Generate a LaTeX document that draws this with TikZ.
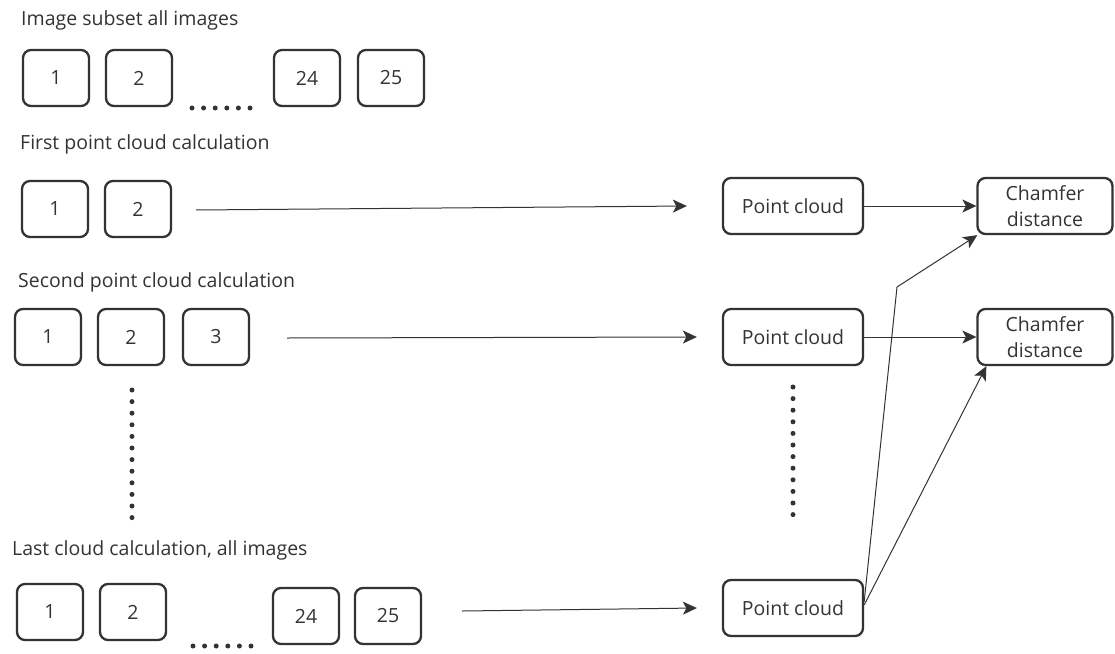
\documentclass[tikz,border=0pt]{standalone}
\usepackage{fontspec}
\setmainfont{Open Sans}
\usetikzlibrary{arrows.meta,positioning}
\definecolor{ink}{HTML}{333333}

\begin{document}
\begin{tikzpicture}[x=1pt, y=-1pt,
  img/.style={draw=ink, line width=2.3pt, rounded corners=8pt,
    minimum width=66pt, minimum height=56pt, text=ink},
  cloud/.style={img, minimum width=140pt},
  dist/.style={img, minimum width=135pt, align=center, inner sep=1pt},
  title/.style={anchor=base west, text=ink, inner sep=0pt},
  flow/.style={draw=ink, line width=1pt,
    -{Stealth[length=14pt, width=13pt, inset=3.5pt]}},
  dots/.style={draw=ink, line width=5pt, line cap=round,
    dash pattern=on 0pt off 11.6pt}]

  \fontsize{19.5}{26}\selectfont

  \useasboundingbox (0,0) rectangle (1115,653);

  % all images
  \node[title] (t1) at (21,25) {Image subset all images};
  \node[img] (a1) at (56,78) {1};
  \node[img] (a2) at (139,78) {2};
  \node[img] (a24) at (307,78) {24};
  \node[img] (a25) at (391,78) {25};
  \coordinate (ad1) at (192,108);
  \coordinate (ad2) at (252,108);
  \draw[dots] (ad1) -- (ad2);

  % first cloud
  \node[title] (t2) at (20,149) {First point cloud calculation};
  \node[img] (b1) at (55,209) {1};
  \node[img] (b2) at (138,209) {2};
  \node[cloud] (pc1) at (793,206) {Point cloud};
  \node[dist] (cd1) at (1045,206) {Chamfer\\distance};
  \coordinate (bs) at (196,210);
  \draw[flow] (bs) -- ([xshift=-35pt]pc1.west);
  \draw[flow] (pc1) -- (cd1);

  % second cloud
  \node[title] (t3) at (18,287) {Second point cloud calculation};
  \node[img] (c1) at (48,337) {1};
  \node[img] (c2) at (131,337) {2};
  \node[img] (c3) at (216,337) {3};
  \node[cloud] (pc2) at (793,337) {Point cloud};
  \node[dist] (cd2) at (1045,337) {Chamfer\\distance};
  \coordinate (cs) at (287,338);
  \draw[flow] (cs) -- ([xshift=-25pt]pc2.west);
  \draw[flow] (pc2) -- (cd2);

  \coordinate (vl1) at (132,390);
  \coordinate (vl2) at (132,518);
  \draw[dots] (vl1) -- (vl2);
  \coordinate (vr1) at (793,387);
  \coordinate (vr2) at (793,526);
  \draw[dots] (vr1) -- (vr2);

  % last cloud
  \node[title] (t4) at (12,555) {Last cloud calculation, all images};
  \node[img] (d1) at (50,612) {1};
  \node[img] (d2) at (133,612) {2};
  \node[img] (d24) at (306,616) {24};
  \node[img] (d25) at (388,616) {25};
  \coordinate (dd1) at (193,646);
  \coordinate (dd2) at (253,646);
  \draw[dots] (dd1) -- (dd2);
  \node[cloud] (pc3) at (793,608) {Point cloud};
  \coordinate (ds) at (462,611);
  \draw[flow] (ds) -- ([xshift=-25pt]pc3.west);

  % into the distances
  \coordinate (bend) at (897,287);
  \draw[flow] ([yshift=6pt]pc3.east) -- (bend) -- ([xshift=1pt]cd1.south west);
  \draw[flow] ([yshift=3pt]pc3.east) -- ([xshift=10pt]cd2.south west);

\end{tikzpicture}
\end{document}
